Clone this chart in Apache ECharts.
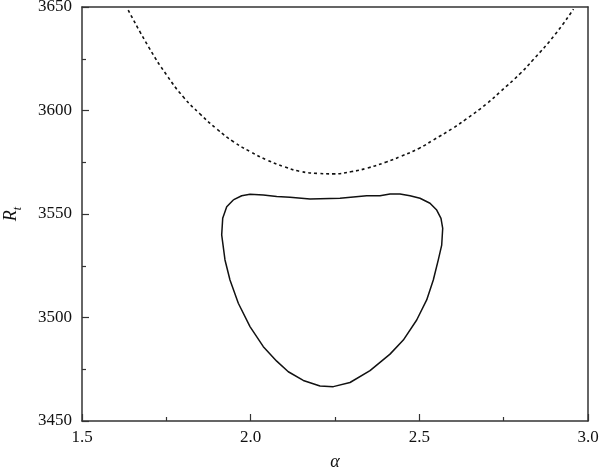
<!DOCTYPE html>
<html>
<head>
<meta charset="utf-8">
<script src="https://cdn.jsdelivr.net/npm/echarts@6/dist/echarts.min.js"></script>
<style>html,body{margin:0;padding:0;background:#fff}#c{width:600px;height:468px}</style>
</head>
<body>
<div id="c"></div>
<script>
// Dashed curve (upper)
const dashedAlpha = [1.637, 1.700, 1.751, 1.800, 1.850, 1.900, 1.949, 2.000, 2.048, 2.100, 2.146, 2.200, 2.245, 2.300, 2.344, 2.400, 2.443, 2.500, 2.541, 2.600, 2.640, 2.700, 2.739, 2.800, 2.838, 2.900, 2.957];
const dashedR     = [3648.5, 3630.0, 3617.1, 3606.6, 3598.3, 3591.0, 3584.9, 3580.0, 3576.1, 3572.8, 3570.6, 3569.6, 3569.4, 3570.5, 3572.1, 3575.0, 3577.7, 3581.8, 3585.7, 3591.5, 3596.0, 3603.3, 3608.9, 3618.0, 3624.6, 3636.2, 3649.0];
// Closed solid curve
const closedAlpha = [1.9485, 1.9734, 1.9980, 2.0375, 2.0772, 2.1166, 2.1759, 2.2648, 2.3440, 2.3834, 2.4131, 2.4427, 2.4724, 2.5020, 2.5316, 2.5515, 2.5642, 2.5693, 2.5663, 2.5562, 2.5414, 2.5218, 2.4922, 2.4525, 2.4131, 2.3538, 2.2945, 2.2450, 2.2056, 2.1560, 2.1116, 2.0772, 2.0375, 1.9980, 1.9634, 1.9387, 1.9239, 1.9141, 1.9171, 1.9290, 1.9485];
const closedR     = [3556.8, 3558.8, 3559.5, 3559.2, 3558.4, 3558.1, 3557.2, 3557.6, 3558.8, 3558.8, 3559.7, 3559.7, 3558.8, 3557.6, 3555.2, 3551.9, 3547.9, 3543.1, 3535.0, 3527.8, 3518.1, 3508.5, 3498.8, 3489.1, 3482.3, 3474.3, 3468.6, 3466.6, 3466.9, 3469.6, 3473.8, 3478.9, 3485.9, 3495.6, 3506.9, 3518.1, 3527.8, 3539.9, 3547.9, 3553.5, 3556.8];

const font = 'Liberation Serif';
const axisColor = '#333';
const chart = echarts.init(document.getElementById('c'));
chart.setOption({
  animation: false,
  grid: {left: 82, right: 12, top: 7, bottom: 47, containLabel: false, outerBoundsMode: 'none'},
  xAxis: [{
    type: 'value', min: 1.5, max: 3.0, interval: 0.5,
    name: 'α', nameLocation: 'middle', nameGap: 32,
    nameTextStyle: {fontFamily: font, fontSize: 18, fontStyle: 'italic', color: '#111'},
    axisLine: {lineStyle: {color: axisColor, width: 1.5}},
    axisTick: {inside: true, length: 7, lineStyle: {color: axisColor, width: 1.2}},
    minorTick: {show: true, splitNumber: 2, length: 4, lineStyle: {color: axisColor, width: 1.2}},
    axisLabel: {fontFamily: font, fontSize: 17, color: '#111', margin: 8, formatter: v => v.toFixed(1)},
    splitLine: {show: false}
  }, {
    type: 'value', position: 'top', min: 1.5, max: 3.0,
    axisLine: {onZero: false, lineStyle: {color: axisColor, width: 1.5}},
    axisTick: {show: false}, axisLabel: {show: false}, splitLine: {show: false}
  }],
  yAxis: [{
    type: 'value', min: 3450, max: 3650, interval: 50,
    name: '{r|R}{t|t}', nameLocation: 'middle', nameGap: 62, nameRotate: 90,
    nameTextStyle: {rich: {
      r: {fontFamily: font, fontSize: 18, fontStyle: 'italic', color: '#111'},
      t: {fontFamily: font, fontSize: 12, fontStyle: 'italic', color: '#111', verticalAlign: 'bottom', padding: [0, 0, -4, 0]}
    }},
    axisLine: {show: true, lineStyle: {color: axisColor, width: 1.5}},
    axisTick: {show: true, inside: true, length: 7, lineStyle: {color: axisColor, width: 1.2}},
    minorTick: {show: true, splitNumber: 2, length: 4, lineStyle: {color: axisColor, width: 1.2}},
    axisLabel: {fontFamily: font, fontSize: 17, color: '#111', margin: 10, formatter: v => String(v)},
    splitLine: {show: false}
  }, {
    type: 'value', position: 'right', min: 3450, max: 3650,
    axisLine: {show: true, onZero: false, lineStyle: {color: axisColor, width: 1.5}},
    axisTick: {show: false}, axisLabel: {show: false}, splitLine: {show: false}
  }],
  series: [{
    type: 'line', showSymbol: false, smooth: true,
    data: dashedAlpha.map((a, i) => [a, dashedR[i]]),
    lineStyle: {color: '#111', width: 1.6, type: [3, 3]}
  }, {
    type: 'line', showSymbol: false, smooth: false,
    data: closedAlpha.map((a, i) => [a, closedR[i]]),
    lineStyle: {color: '#111', width: 1.5, join: 'round'}
  }]
});
</script>
</body>
</html>
